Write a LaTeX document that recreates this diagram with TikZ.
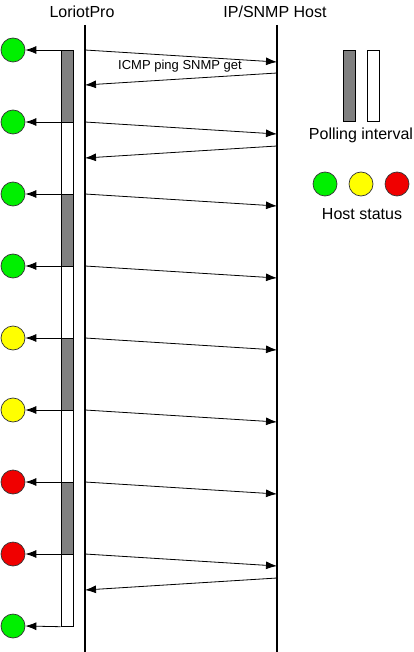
\documentclass[tikz,border=0pt]{standalone}
\usepackage{fontspec}
\setmainfont{Liberation Sans}
\usetikzlibrary{arrows.meta}
\begin{document}
\begin{tikzpicture}[x=1pt,y=-1pt,
  lifeline/.style={line width=2.6pt},
  msg/.style={line width=0.8pt,-{Latex[length=11pt,width=8pt]}},
  statusarrow/.style={line width=0.8pt,-{Latex[length=11pt,width=8pt]}},
  barbase/.style={draw,line width=0.7pt,minimum width=12pt,minimum height=72pt,inner sep=0pt,anchor=north},
  busybar/.style={barbase,fill=black!50},
  idlebar/.style={barbase,fill=white},
  legendbar/.style={draw,line width=0.7pt,minimum width=12pt,minimum height=71pt,inner sep=0pt},
  hoststat/.style={circle,draw=black!80,line width=0.7pt,minimum size=24pt,inner sep=0pt},
  lbl/.style={font=\fontsize{16}{19}\selectfont},
  small/.style={font=\fontsize{13}{15}\selectfont}
]
\definecolor{okgreen}{RGB}{0,240,0}
\definecolor{warnyellow}{RGB}{255,255,0}
\definecolor{errred}{RGB}{240,0,0}
\useasboundingbox (0,0) rectangle (414,652);

% lifeline headers
\node[lbl] (lp) at (82,12) {LoriotPro};
\node[lbl] (host) at (275,12) {IP/SNMP Host};
\coordinate (lpTop) at (85,25);
\coordinate (lpBot) at (85,652);
\coordinate (hTop) at (277,25);
\coordinate (hBot) at (277,652);
\draw[lifeline] (lpTop) -- (lpBot);
\draw[lifeline] (hTop) -- (hBot);

% polling bars
\foreach \i/\y/\s in {1/50/busybar,2/122/idlebar,3/194/busybar,4/266/idlebar,5/338/busybar,6/410/idlebar,7/482/busybar,8/554/idlebar}
  \node[\s] (b\i) at (67,\y) {};

% host status circles
\foreach \i/\y/\c in {1/50/okgreen,2/122/okgreen,3/194/okgreen,4/266/okgreen,5/338/warnyellow,6/410/warnyellow,7/482/errred,8/554/errred,9/626/okgreen}
  \node[hoststat,fill=\c] (c\i) at (13,\y) {};

\foreach \i in {1,...,8}
  \draw[statusarrow] (b\i.north west) -- (c\i.east);
\draw[statusarrow] (b8.south west) -- (c9.east);

% messages
\foreach \i/\y in {1/50,2/122,3/194,4/266,5/338,6/410,7/482,8/554}{
  \coordinate (s\i) at (85,\y);
  \coordinate (r\i) at (277,\y+12);
  \draw[msg] (s\i) -- (r\i);
}
\coordinate (ra1) at (277,73);
\coordinate (la1) at (85,85);
\coordinate (ra2) at (277,146);
\coordinate (la2) at (85,158);
\coordinate (ra3) at (277,578);
\coordinate (la3) at (85,590);
\draw[msg] (ra1) -- (la1);
\draw[msg] (ra2) -- (la2);
\draw[msg] (ra3) -- (la3);
\node[small] (icmp) at (180,66.5) {ICMP ping SNMP get};

% legend
\node[legendbar,fill=black!50] (lg1) at (349.3,86) {};
\node[legendbar,fill=white] (lg2) at (373.3,86) {};
\node[lbl] (poll) at (361,135) {Polling interval};
\node[hoststat,fill=okgreen] (lc1) at (325,184) {};
\node[hoststat,fill=warnyellow] (lc2) at (361,184) {};
\node[hoststat,fill=errred] (lc3) at (397,184) {};
\node[lbl] (hs) at (362,214) {Host status};
\end{tikzpicture}
\end{document}
